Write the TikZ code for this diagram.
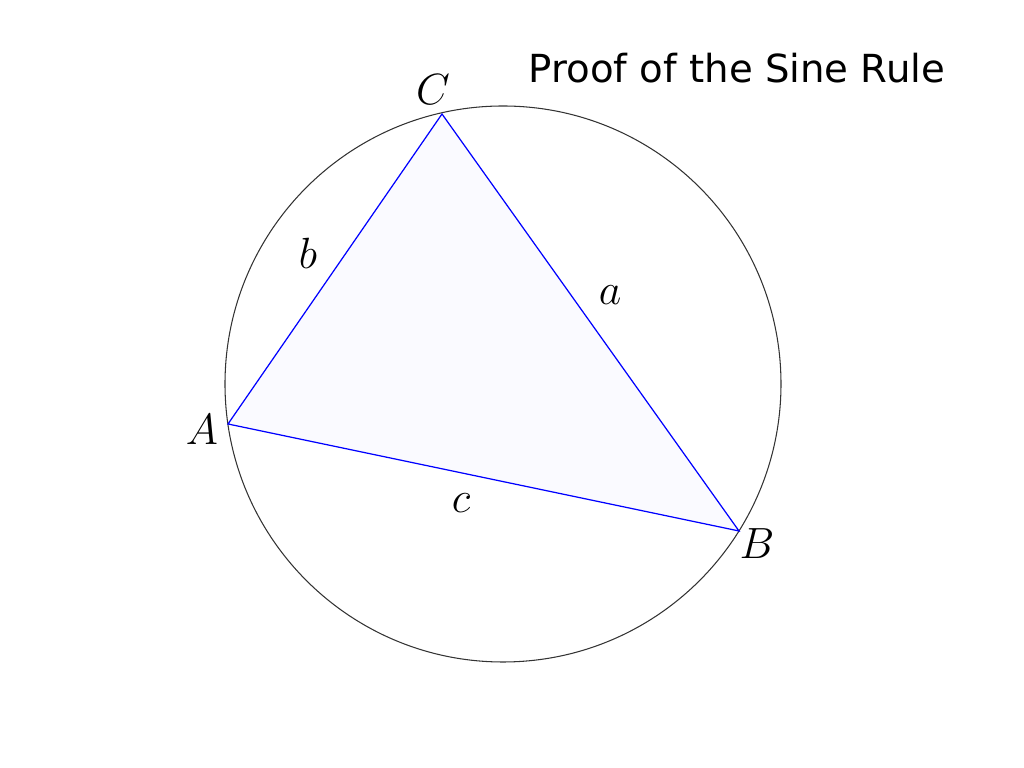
\documentclass[tikz,border=0pt]{standalone}
\usepackage{fontspec}
\usepackage{amsmath}
\setsansfont{DejaVu Sans}
\usetikzlibrary{positioning,calc}

\begin{document}
\begin{tikzpicture}
      \useasboundingbox (0,0) rectangle (20.48,15.36);
      \coordinate (o) at (10.06,7.68);
      \coordinate (vc) at (8.84,13.08);
      \coordinate (va) at (4.56,6.88);
      \coordinate (vb) at (14.78,4.74);

      \draw[black!80,line width=0.6pt] (o) circle (5.56);
      \filldraw[fill=blue!2,draw=blue,line width=0.7pt] (va)--(vb)--(vc)--cycle;

      \node[font=\fontsize{24}{28}\selectfont] (lc) at (8.66,13.56) {$C$};
      \node[font=\fontsize{24}{28}\selectfont] (la) at (4.04,6.76) {$A$};
      \node[font=\fontsize{24}{28}\selectfont] (lb) at (15.14,4.48) {$B$};

      \node[font=\fontsize{24}{28}\selectfont] (sb) at (6.16,10.30) {$b$};
      \node[font=\fontsize{24}{28}\selectfont] (sa) at (12.2,9.46) {$a$};
      \node[font=\fontsize{24}{28}\selectfont] (sc) at (9.22,5.30) {$c$};

      \node[font=\sffamily\fontsize{22}{26}\selectfont] (title) at (14.74,14.0) {Proof of the Sine Rule};
\end{tikzpicture}
\end{document}
